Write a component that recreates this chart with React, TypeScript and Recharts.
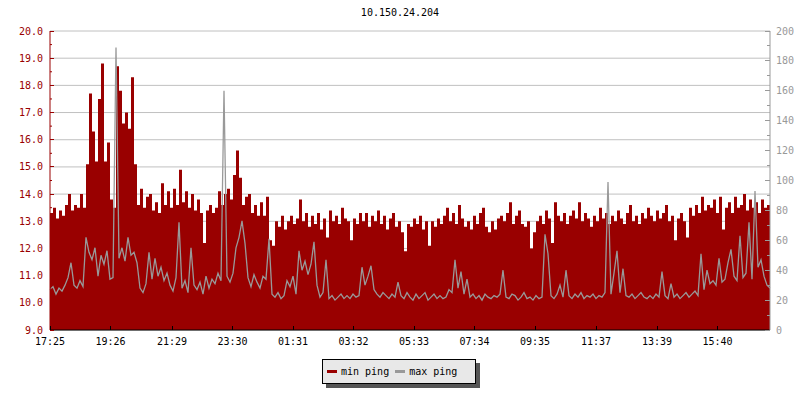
import { Area, CartesianGrid, ComposedChart, Legend, Line, XAxis, YAxis } from 'recharts';

// one sample every 6 minutes, starting at 17:25
const STEP_MINUTES = 6;

const timeLabels = [
  '17:25', '19:26', '21:29', '23:30', '01:31', '03:32',
  '05:33', '07:34', '09:35', '11:37', '13:39', '15:40',
];

// min ping, left axis (ms)
const minPing = [
  13.3, 13.5, 13.1, 13.4, 13.2, 13.6, 14.0, 13.4, 13.6, 13.5,
  14.0, 13.5, 15.1, 17.7, 16.3, 15.2, 17.5, 18.8, 15.2, 15.9,
  13.8, 13.5, 18.7, 17.8, 16.6, 17.0, 16.4, 18.3, 15.1, 13.6,
  14.2, 13.5, 13.9, 14.0, 13.4, 13.7, 13.3, 14.4, 13.6, 14.1,
  13.5, 14.2, 13.6, 14.9, 13.7, 14.1, 13.5, 14.0, 13.4, 13.8,
  13.3, 12.2, 13.4, 13.6, 13.3, 13.5, 14.1, 13.6, 14.0, 14.2,
  13.8, 14.7, 15.6, 14.6, 13.6, 13.9, 14.0, 13.3, 13.6, 13.2,
  13.7, 13.2, 13.9, 12.3, 12.1, 13.0, 12.8, 13.2, 12.7, 13.0,
  13.2, 12.9, 13.1, 13.8, 13.0, 13.3, 12.8, 13.2, 12.9, 13.3,
  12.7, 13.1, 12.4, 13.4, 13.0, 13.2, 12.9, 13.5, 13.1, 13.0,
  12.3, 13.1, 12.9, 13.3, 13.0, 13.3, 12.8, 13.2, 13.0, 13.4,
  12.9, 13.2, 12.7, 13.1, 13.3, 12.8, 13.0, 12.6, 11.9, 12.9,
  12.8, 13.1, 12.9, 13.2, 12.7, 13.0, 12.1, 13.0, 12.8, 13.1,
  12.9, 13.2, 13.5, 13.0, 13.3, 12.9, 13.6, 13.1, 12.8, 13.0,
  12.7, 13.2, 12.9, 13.3, 13.5, 12.8, 12.6, 13.0, 12.7, 13.1,
  13.2, 13.0, 13.3, 13.7, 12.9, 13.2, 13.4, 12.9, 12.8, 13.0,
  12.0, 12.6, 13.0, 13.2, 12.9, 13.4, 13.1, 12.2, 13.7, 13.2,
  13.0, 13.3, 12.9, 13.2, 13.4, 13.1, 13.7, 13.0, 13.3, 13.1,
  12.8, 13.2, 13.0, 13.5, 13.1, 13.3, 12.9, 13.2, 13.0, 13.4,
  13.1, 12.9, 13.3, 13.6, 13.0, 13.2, 12.9, 13.3, 13.1, 13.5,
  13.2, 13.0, 13.4, 13.1, 13.3, 13.6, 13.0, 13.2, 12.3, 13.1,
  13.3, 13.0, 12.4, 13.5, 13.2, 13.6, 13.3, 13.9, 13.4, 13.6,
  13.5, 13.8, 13.3, 13.9, 12.7, 13.5, 13.7, 13.3, 13.9, 13.5,
  13.6, 14.0, 13.4, 13.8, 13.5, 13.7, 13.3, 13.8, 13.5, 13.6,
  13.4,
];

// max ping, right axis (ms)
const maxPing = [
  27, 29, 24, 28, 26, 30, 35, 45, 30, 28,
  33, 29, 62, 52, 47, 55, 36, 50, 44, 53,
  34, 35, 189, 48, 55, 46, 62, 50, 52, 45,
  28, 25, 31, 52, 34, 48, 36, 42, 33, 38,
  30, 26, 35, 72, 28, 33, 25, 55, 30, 27,
  32, 24, 36, 28, 34, 31, 38, 33, 160, 36,
  32, 38, 55, 62, 73, 58, 35, 29, 37, 32,
  28, 36, 34, 61, 24, 22, 25, 21, 23, 33,
  29, 36, 24, 53, 40, 46, 37, 44, 59, 30,
  22, 25, 47, 21, 23, 20, 22, 24, 21, 23,
  21, 24, 22, 23, 42, 30, 36, 43, 27, 24,
  22, 25, 23, 21, 24, 22, 32, 23, 21, 25,
  22, 20, 24, 21, 23, 25, 20, 22, 24, 21,
  23, 21, 22, 27, 25, 47, 28, 39, 24, 34,
  22, 24, 21, 23, 20, 24, 22, 21, 23, 22,
  24, 40, 22, 21, 24, 23, 20, 22, 25, 21,
  22, 20, 23, 21, 22, 64, 51, 23, 21, 24,
  30, 22, 40, 23, 21, 24, 22, 25, 21, 23,
  22, 24, 21, 23, 22, 25, 99, 24, 38, 53,
  25, 41, 23, 22, 24, 21, 23, 25, 22, 21,
  23, 21, 24, 22, 39, 23, 21, 31, 22, 24,
  21, 23, 25, 22, 24, 26, 23, 51, 27, 40,
  31, 33, 30, 48, 32, 34, 45, 54, 36, 33,
  63, 35, 38, 72, 34, 93, 42, 47, 36, 30,
  28,
];

const leftTicks = [9, 10, 11, 12, 13, 14, 15, 16, 17, 18, 19, 20];
const leftMinorTicks = [9.5, 10.5, 11.5, 12.5, 13.5, 14.5, 15.5, 16.5, 17.5, 18.5, 19.5];
const rightTicks = [0, 10, 20, 30, 40, 50, 60, 70, 80, 90, 100, 110, 120, 130, 140, 150, 160, 170, 180, 190, 200];

const RED = '#990000';
const GRAY = '#999999';

const series = [
  { name: 'min ping', color: RED },
  { name: 'max ping', color: GRAY },
];

const toMinutes = (label: string) => {
  const [h, m] = label.split(':').map(Number);
  const [h0, m0] = timeLabels[0].split(':').map(Number);
  return (h * 60 + m - (h0 * 60 + m0) + 1440) % 1440;
};
const tickMinutes = timeLabels.map(toMinutes);

const data = minPing.map((v, i) => ({
  t: i * STEP_MINUTES,
  minPing: v,
  maxPing: maxPing[i],
}));

function LeftTick({ x, y, payload }: any) {
  const v = payload.value as number;
  const axisX = x + 7;
  return (
    <g>
      <line x1={axisX} x2={axisX + 4} y1={y} y2={y} stroke={RED} shapeRendering="crispEdges" />
      <text x={x} y={y} dy="0.35em" textAnchor="end" fill={RED} fontSize={10}>
        {v.toFixed(1)}
      </text>
    </g>
  );
}

function RightTick({ x, y, payload }: any) {
  const v = payload.value as number;
  const major = v % 20 === 0;
  const axisX = x - 6;
  return (
    <g>
      <line x1={axisX} x2={axisX - (major ? 5 : 3)} y1={y} y2={y} stroke={GRAY} shapeRendering="crispEdges" />
      {major && (
        <text x={x} y={y} dy="0.35em" textAnchor="start" fill={GRAY} fontSize={10}>
          {v}
        </text>
      )}
    </g>
  );
}

function TimeTick({ x, y, payload }: any) {
  const label = timeLabels[tickMinutes.indexOf(payload.value)];
  return (
    <g>
      <line x1={x} x2={x} y1={y} y2={y - 4} stroke="#000" shapeRendering="crispEdges" />
      <text x={x} y={y + 15} textAnchor="middle" fill="#000" fontSize={10}>
        {label}
      </text>
    </g>
  );
}

function LegendBox() {
  return (
    <div
      style={{
        width: 154,
        height: 25,
        boxSizing: 'border-box',
        background: '#e8e8e8',
        border: '1px solid #000',
        boxShadow: '4px 4px 0 #555',
        display: 'flex',
        alignItems: 'center',
        paddingLeft: 4,
        fontSize: 10,
        color: '#000',
      }}
    >
      {series.map((s) => (
        <span key={s.name} style={{ display: 'flex', alignItems: 'center', marginRight: 6 }}>
          <span style={{ width: 10, height: 3, background: s.color, marginRight: 4 }} />
          {s.name}
        </span>
      ))}
    </div>
  );
}

export default function App() {
  return (
    <div
      style={{
        position: 'absolute',
        left: 0,
        top: 0,
        width: 800,
        height: 400,
        background: '#fff',
        fontFamily: "'DejaVu Sans Mono', monospace",
      }}
    >
      <div
        style={{
          position: 'absolute',
          top: 7,
          width: 800,
          textAlign: 'center',
          fontSize: 10,
          color: '#000',
        }}
      >
        10.150.24.204
      </div>
      <ComposedChart
        width={800}
        height={400}
        data={data}
        margin={{ top: 31, right: 0, bottom: 50, left: 0 }}
      >
        <CartesianGrid yAxisId="left" vertical={false} stroke="#c0c0c0" />
        <Area
          yAxisId="left"
          dataKey="minPing"
          name="min ping"
          type="stepAfter"
          fill={RED}
          fillOpacity={1}
          stroke="none"
          baseValue="dataMin"
          isAnimationActive={false}
        />
        <Line
          yAxisId="right"
          dataKey="maxPing"
          name="max ping"
          type="linear"
          stroke={GRAY}
          strokeWidth={1.3}
          dot={false}
          activeDot={false}
          isAnimationActive={false}
        />
        <XAxis
          dataKey="t"
          type="number"
          domain={[0, 1440]}
          ticks={tickMinutes}
          interval={0}
          height={20}
          tickSize={0}
          tickMargin={0}
          tick={<TimeTick />}
          axisLine={{ stroke: '#000' }}
          tickLine={false}
        />
        <YAxis
          yAxisId="left"
          orientation="left"
          domain={[9, 20]}
          ticks={leftTicks}
          interval={0}
          allowDataOverflow
          width={50}
          tickSize={0}
          tickMargin={7}
          tick={<LeftTick />}
          axisLine={{ stroke: RED }}
          tickLine={false}
        />
        <YAxis
          yAxisId="leftMinor"
          orientation="left"
          mirror
          domain={[9, 20]}
          ticks={leftMinorTicks}
          interval={0}
          allowDataOverflow
          width={1}
          tickSize={2}
          tickFormatter={() => ''}
          axisLine={false}
          tickLine={{ stroke: RED }}
        />
        <YAxis
          yAxisId="right"
          orientation="right"
          domain={[0, 200]}
          ticks={rightTicks}
          interval={0}
          allowDataOverflow
          width={30}
          tickSize={0}
          tickMargin={6}
          tick={<RightTick />}
          axisLine={{ stroke: GRAY }}
          tickLine={false}
        />
        <Legend
          layout="horizontal"
          verticalAlign="middle"
          align="center"
          wrapperStyle={{ left: 322, top: 359, width: 158, height: 30 }}
          content={<LegendBox />}
        />
      </ComposedChart>
    </div>
  );
}
